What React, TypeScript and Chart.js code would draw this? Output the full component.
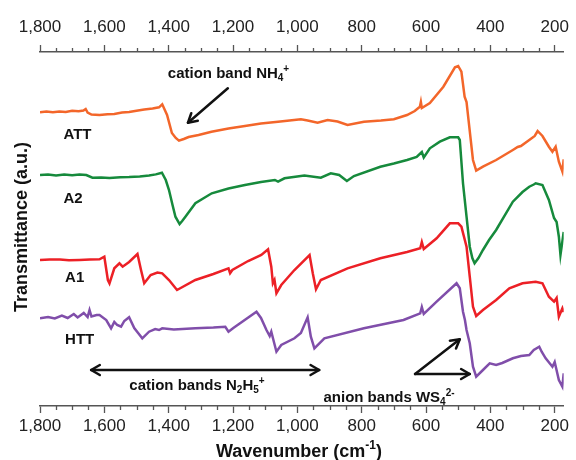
import React, { useEffect, useRef } from 'react';
import { Chart, registerables } from 'chart.js';

Chart.register(...registerables);

// ---------- data ----------
const wavenumberTicks = [1800, 1600, 1400, 1200, 1000, 800, 600, 400, 200];
const minorTickStep = 50;
const xMin = 172;
const xMax = 1800;

const seriesNames = ['ATT', 'A2', 'A1', 'HTT'];
const seriesColors = ['rgb(243,102,42)', 'rgb(22,138,60)', 'rgb(236,32,38)', 'rgb(128,78,170)'];

// [wavenumber (cm-1), transmittance (a.u., offset)]
const ATT: [number, number][] = [
  [1800, 293.7], [1780, 294.5], [1760, 293.8], [1740, 294.6], [1720, 294], [1700, 295.2], [1680, 294.8],
  [1665, 295.5], [1658, 297], [1652, 293.5], [1640, 291.5], [1615, 291], [1590, 291.8], [1569, 292],
  [1545, 293.4], [1523, 294], [1500, 295.2], [1476, 296.5], [1450, 297.6], [1430, 298.7], [1420, 301.7],
  [1405, 291], [1390, 273], [1378, 268], [1368, 265.3], [1353, 267], [1338, 269], [1307, 271],
  [1267, 274.3], [1214, 277.5], [1163, 280], [1113, 282.5], [1060, 284.3], [989, 286.7], [968, 285.5],
  [937, 283.3], [906, 286], [875, 284.5], [844, 281], [793, 284.3], [740, 285.5], [700, 286.7],
  [659, 291], [635, 295], [619, 299.3], [616, 304], [613, 298], [588, 303], [546, 319.3], [510, 338.7],
  [500, 340], [490, 334.3], [480, 309.3], [474, 304], [469, 289.3], [454, 246], [444, 235.3],
  [423, 239.3], [382, 246], [330, 256], [315, 259], [305, 260], [279, 266], [262, 270], [253, 275],
  [238, 270], [218, 259.3], [207, 254.3], [197, 259.3], [187, 244.3], [176, 234.3], [172, 246.7],
];

const A2: [number, number][] = [
  [1800, 231], [1775, 231.6], [1750, 230.6], [1725, 231.4], [1700, 230.8], [1677, 231.5], [1656, 231],
  [1637, 228.3], [1610, 228.6], [1584, 228], [1550, 228.8], [1523, 229], [1490, 229.6], [1461, 230.5],
  [1440, 231.6], [1421, 233.3], [1409, 226], [1399, 216], [1388, 201], [1379, 189.3], [1366, 182],
  [1358, 185], [1348, 189.3], [1317, 202.7], [1266, 212.7], [1214, 217.5], [1163, 221], [1113, 224],
  [1070, 226], [1060, 224.3], [1040, 227.7], [978, 230.5], [927, 228.3], [896, 232.7], [870, 231],
  [846, 225], [824, 230], [742, 239.3], [700, 242.5], [659, 246], [629, 249], [613, 254], [607, 248.5],
  [588, 257.7], [557, 264.3], [526, 268.7], [500, 268.7], [495, 266], [485, 222.7], [474, 189.3],
  [464, 159.3], [456, 148], [449, 142.7], [437, 148], [423, 156], [404, 166], [382, 176], [330, 204.3],
  [300, 214], [279, 219.3], [265, 221.5], [259, 222.7], [238, 221], [218, 206], [202, 188], [194, 184],
  [187, 169.3], [182, 151], [172, 174],
];

const A1: [number, number][] = [
  [1800, 146], [1770, 146.6], [1738, 146.5], [1710, 145.8], [1677, 146], [1645, 146.4], [1615, 146.7],
  [1600, 149.3], [1589, 126], [1584, 122.7], [1569, 137.7], [1553, 142.7], [1543, 139.3], [1523, 144],
  [1497, 152], [1486, 136], [1476, 122.7], [1456, 131], [1435, 133.5], [1420, 132.7], [1399, 126],
  [1374, 116], [1317, 126], [1261, 132], [1214, 137.7], [1209, 132.7], [1202, 136], [1153, 145],
  [1112, 151], [1091, 156.7], [1081, 139.3], [1076, 122.7], [1071, 126], [1065, 112.7], [1050, 121],
  [1009, 136], [962, 151], [952, 132.7], [942, 116.7], [927, 126], [844, 137.7], [742, 147.7],
  [659, 154], [618, 157.7], [613, 164], [607, 157], [567, 167.7], [526, 182.7], [500, 182.7],
  [490, 179.3], [474, 159.3], [464, 129.3], [454, 99.3], [444, 90], [423, 96], [382, 106], [341, 117.7],
  [300, 122.7], [259, 124.3], [238, 122.7], [218, 109.3], [202, 104.3], [194, 108], [187, 89.3],
  [176, 97.7], [172, 94],
];

const HTT: [number, number][] = [
  [1800, 87.7], [1775, 89], [1754, 87.5], [1732, 90.5], [1714, 88], [1695, 92], [1683, 88.5],
  [1664, 93], [1652, 89], [1646, 96], [1640, 89.5], [1624, 91], [1615, 91], [1594, 86], [1579, 77.7],
  [1569, 84], [1560, 81], [1548, 79.3], [1538, 85], [1523, 88.7], [1507, 78], [1495, 73], [1482, 67.7],
  [1461, 74.3], [1442, 77], [1430, 76], [1420, 77.7], [1384, 76.5], [1317, 77.7], [1261, 78.5],
  [1224, 79.3], [1214, 74.3], [1199, 78], [1127, 94.3], [1113, 88], [1096, 76], [1086, 70],
  [1081, 74.3], [1065, 54.3], [1050, 61], [1009, 67.7], [989, 73], [968, 88.7], [958, 69.3], [947, 57.7],
  [916, 67.7], [793, 77.7], [670, 86], [618, 92.7], [613, 99], [607, 92], [567, 104.3], [505, 122.7],
  [495, 117.7], [485, 94.3], [479, 86], [474, 76], [464, 62.7], [454, 39.3], [444, 29.3], [423, 36],
  [402, 42.7], [382, 41], [363, 43], [330, 47.7], [305, 50], [279, 51], [265, 56], [248, 59.3],
  [240, 54], [228, 47.7], [207, 39.3], [200, 44], [187, 26], [176, 19.3], [172, 32.7],
];

const seriesData = [ATT, A2, A1, HTT];

// ---------- text ----------
type Seg = { t: string; k?: 'sub' | 'sup' };
const FONT = '"Liberation Sans", Arial, Helvetica, sans-serif';

const xTitle: Seg[] = [{ t: 'Wavenumber (cm' }, { t: '-1', k: 'sup' }, { t: ')' }];
const yTitle = 'Transmittance (a.u.)';
const nh4Text: Seg[] = [{ t: 'cation band NH' }, { t: '4', k: 'sub' }, { t: '+', k: 'sup' }];
const n2h5Text: Seg[] = [{ t: 'cation bands N' }, { t: '2', k: 'sub' }, { t: 'H' }, { t: '5', k: 'sub' }, { t: '+', k: 'sup' }];
const ws4Text: Seg[] = [{ t: 'anion bands WS' }, { t: '4', k: 'sub' }, { t: '2-', k: 'sup' }];

// label positions in data coordinates [wavenumber, y]
const seriesLabelPos: [number, number][] = [[1727, 272], [1727, 208.5], [1722, 129], [1722, 67.5]];

function drawRich(ctx: CanvasRenderingContext2D, segs: Seg[], x: number, y: number, size: number, align: 'center' | 'left') {
  const small = Math.round(size * 0.66);
  const fontFor = (k?: string) => `bold ${k ? small : size}px ${FONT}`;
  const widths = segs.map((s) => {
    ctx.font = fontFor(s.k);
    return ctx.measureText(s.t).width;
  });
  const total = widths.reduce((a, b) => a + b, 0);
  let cx = align === 'center' ? x - total / 2 : x;
  const base = y + size * 0.36;
  ctx.textAlign = 'left';
  ctx.textBaseline = 'alphabetic';
  segs.forEach((s, i) => {
    ctx.font = fontFor(s.k);
    const dy = s.k === 'sub' ? size * 0.18 : s.k === 'sup' ? -size * 0.42 : 0;
    ctx.fillText(s.t, cx, base + dy);
    cx += widths[i];
  });
}

function head(ctx: CanvasRenderingContext2D, fx: number, fy: number, tx: number, ty: number) {
  const a = Math.atan2(ty - fy, tx - fx);
  const len = 10;
  const spread = Math.PI / 6;
  ctx.beginPath();
  ctx.moveTo(tx - len * Math.cos(a - spread), ty - len * Math.sin(a - spread));
  ctx.lineTo(tx, ty);
  ctx.lineTo(tx - len * Math.cos(a + spread), ty - len * Math.sin(a + spread));
  ctx.stroke();
}

function arrow(ctx: CanvasRenderingContext2D, fx: number, fy: number, tx: number, ty: number, both = false) {
  ctx.beginPath();
  ctx.moveTo(fx, fy);
  ctx.lineTo(tx, ty);
  ctx.stroke();
  head(ctx, fx, fy, tx, ty);
  if (both) head(ctx, tx, ty, fx, fy);
}

const annotationPlugin = {
  id: 'annot',
  afterDraw(chart: any) {
    const ctx: CanvasRenderingContext2D = chart.ctx;
    const xs = chart.scales.x;
    const xt = chart.scales.x2;
    const ys = chart.scales.y;
    const X = (v: number) => xs.getPixelForValue(v);
    const Y = (v: number) => ys.getPixelForValue(v);
    const majors = new Set(wavenumberTicks);
    ctx.save();
    // minor ticks
    ctx.strokeStyle = '#555';
    ctx.lineWidth = 1.3;
    for (let v = Math.ceil(xMin / minorTickStep) * minorTickStep; v <= xMax; v += minorTickStep) {
      if (majors.has(v)) continue;
      const px = Math.round(X(v)) + 0.5;
      ctx.beginPath();
      ctx.moveTo(px, xs.top);
      ctx.lineTo(px, xs.top + 4);
      ctx.moveTo(px, xt.bottom);
      ctx.lineTo(px, xt.bottom - 4);
      ctx.stroke();
    }
    ctx.fillStyle = '#111';
    // series labels
    seriesNames.forEach((n, i) => {
      const [wx, wy] = seriesLabelPos[i];
      drawRich(ctx, [{ t: n }], X(wx), Y(wy), 15, 'left');
    });
    // annotations
    drawRich(ctx, nh4Text, X(1214), Y(333), 15, 'center');
    drawRich(ctx, n2h5Text, X(1312), Y(21), 15, 'center');
    drawRich(ctx, ws4Text, X(715), Y(9), 15, 'center');
    ctx.strokeStyle = '#111';
    ctx.lineWidth = 2.5;
    ctx.lineCap = 'round';
    ctx.lineJoin = 'round';
    arrow(ctx, X(1216), Y(317.7), X(1340), Y(283.3));
    arrow(ctx, X(932), Y(36), X(1641), Y(36), true);
    arrow(ctx, X(634), Y(32), X(495), Y(66.7));
    arrow(ctx, X(634), Y(32), X(464), Y(32));
    // axis titles
    drawRich(ctx, xTitle, X(995), chart.chartArea.bottom + 44.5, 18, 'center');
    ctx.save();
    ctx.translate(chart.chartArea.left - 18, Y(179));
    ctx.rotate(-Math.PI / 2);
    ctx.font = `bold 18px ${FONT}`;
    ctx.textAlign = 'center';
    ctx.textBaseline = 'middle';
    ctx.fillText(yTitle, 0, 0);
    ctx.restore();
    ctx.restore();
  },
};

function xAxis(position: 'top' | 'bottom', fixedHeight: number, pad: number) {
  return {
    type: 'linear',
    position,
    min: xMin,
    max: xMax,
    reverse: true,
    afterBuildTicks: (s: any) => {
      s.ticks = wavenumberTicks.map((v) => ({ value: v }));
    },
    afterFit: (s: any) => {
      s.height = fixedHeight;
    },
    grid: { drawOnChartArea: false, drawTicks: true, tickLength: 7, tickColor: '#555', tickWidth: 1.3 },
    border: { display: true, color: '#555', width: 1.5 },
    ticks: {
      color: '#222',
      padding: pad,
      maxRotation: 0,
      autoSkip: false,
      font: { family: FONT, size: 17 },
      callback: (v: any) => Number(v).toLocaleString('en-US'),
    },
  };
}

export default function App() {
  const ref = useRef<HTMLCanvasElement | null>(null);
  useEffect(() => {
    document.body.style.margin = '0';
    if (!ref.current) return;
    const chart = new Chart(ref.current, {
      type: 'line',
      data: {
        datasets: seriesData.map((d, i) => ({
          label: seriesNames[i],
          data: d.map(([x, y]) => ({ x, y })),
          borderColor: seriesColors[i],
          backgroundColor: seriesColors[i],
          borderWidth: 2.5,
          pointRadius: 0,
          tension: 0,
          fill: false,
          xAxisID: 'x',
          yAxisID: 'y',
        })),
      },
      options: {
        animation: false,
        responsive: true,
        maintainAspectRatio: false,
        layout: { padding: { left: 40, right: 8, top: 0, bottom: 0 } },
        plugins: { legend: { display: false }, tooltip: { enabled: false } },
        scales: {
          x: xAxis('bottom', 54, 3) as any,
          x2: xAxis('top', 52, 7) as any,
          y: { type: 'linear', display: false, min: 0, max: 354 },
        },
      },
      plugins: [annotationPlugin],
    });
    return () => chart.destroy();
  }, []);
  return (
    <div style={{ width: 576, height: 460, position: 'relative' }}>
      <canvas ref={ref} />
    </div>
  );
}
